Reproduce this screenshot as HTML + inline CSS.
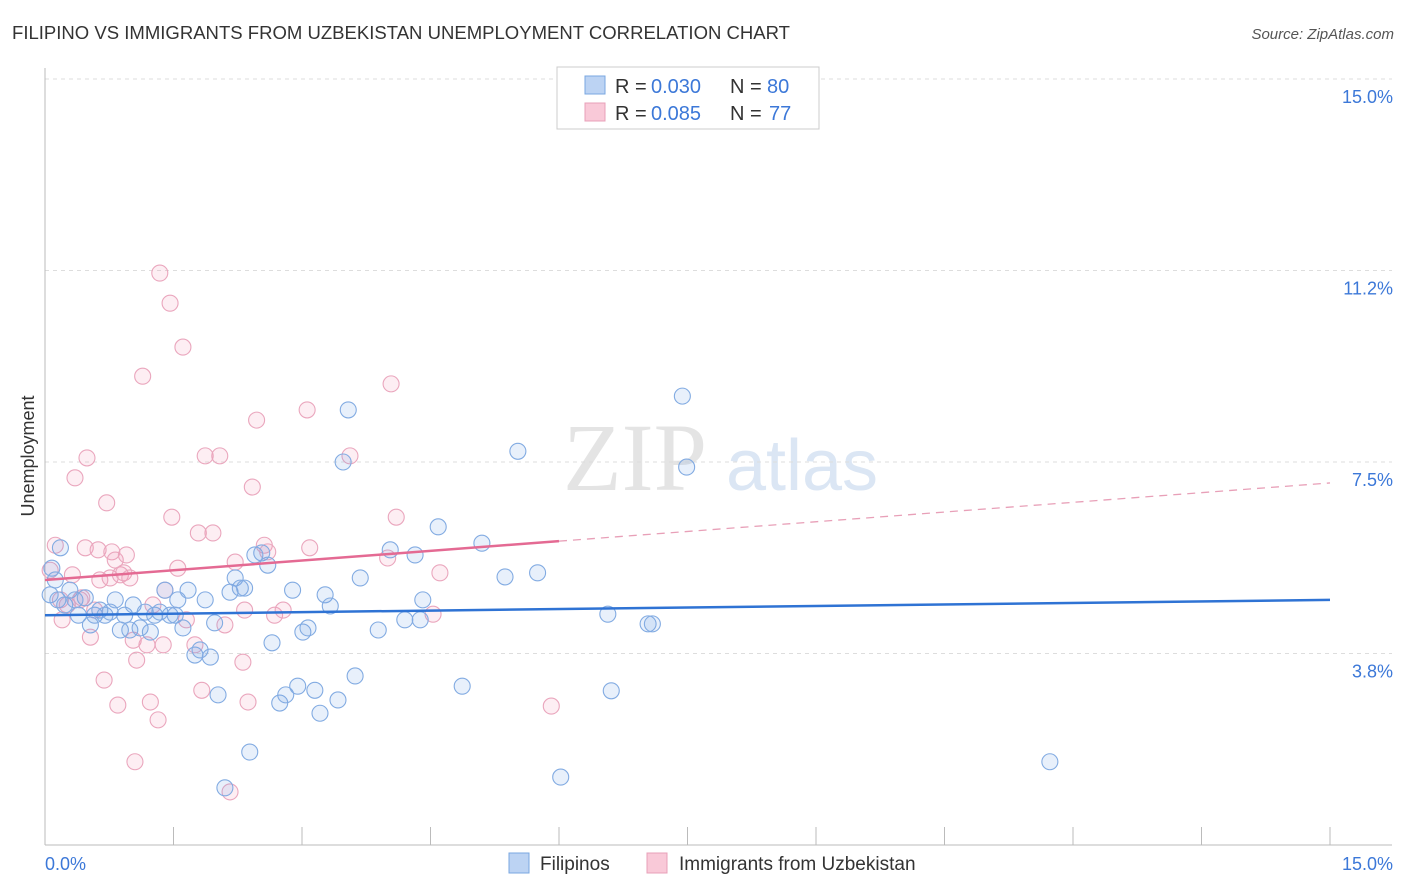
<!DOCTYPE html>
<html><head><meta charset="utf-8">
<style>
body{margin:0;background:#fff;font-family:"Liberation Sans",sans-serif;}
#wrap{position:relative;width:1406px;height:892px;overflow:hidden;}
</style></head>
<body>
<div id="wrap">
<svg id="chart" width="1406" height="892">
  <text x="12" y="39" font-size="18" fill="#333" textLength="778" lengthAdjust="spacingAndGlyphs">FILIPINO VS IMMIGRANTS FROM UZBEKISTAN UNEMPLOYMENT CORRELATION CHART</text>
  <text x="1394" y="39" font-size="15" fill="#555" font-style="italic" text-anchor="end">Source: ZipAtlas.com</text>
  <text x="34" y="456" font-size="18" fill="#333" text-anchor="middle" transform="rotate(-90 34 456)">Unemployment</text>
  <g>
    <text x="635" y="490" font-size="96" fill="#e4e4e4" font-family="Liberation Serif,serif" text-anchor="middle">ZIP</text>
    <text x="802" y="490" font-size="72" fill="#dbe6f4" text-anchor="middle">atlas</text>
  </g>
  <g id="grid"></g>
  <g id="axes"></g>
  <g id="marks"></g>
  <g>
    <rect x="557" y="67" width="262" height="62" fill="#fff" stroke="#ccc"/>
    <rect x="585" y="76" width="20" height="18" fill="#bcd3f3" stroke="#7aa7e0"/>
    <rect x="585" y="103" width="20" height="18" fill="#f9c9d8" stroke="#e8a0b8"/>
    <text x="615" y="93" font-size="20" fill="#333">R =</text>
    <text x="651" y="93" font-size="20" fill="#3c78d8">0.030</text>
    <text x="730" y="93" font-size="20" fill="#333">N =</text>
    <text x="767" y="93" font-size="20" fill="#3c78d8">80</text>
    <text x="615" y="120" font-size="20" fill="#333">R =</text>
    <text x="651" y="120" font-size="20" fill="#3c78d8">0.085</text>
    <text x="730" y="120" font-size="20" fill="#333">N =</text>
    <text x="769" y="120" font-size="20" fill="#3c78d8">77</text>
  </g>
  <g>
    <rect x="509" y="853" width="20" height="20" fill="#bcd3f3" stroke="#7aa7e0"/>
    <text x="540" y="870" font-size="19" fill="#333">Filipinos</text>
    <rect x="647" y="853" width="20" height="20" fill="#f9c9d8" stroke="#e8a0b8"/>
    <text x="679" y="870" font-size="19" fill="#333">Immigrants from Uzbekistan</text>
  </g>
</svg>
</div>
<script>
const yTicks=[3.75,7.5,11.25,15];
const yTickLabels=["3.8%","7.5%","11.2%","15.0%"];
const xTickVals=[0,1.5,3,4.5,6,7.5,9,10.5,12,13.5,15];
const xEndLabels=["0.0%","15.0%"];
const blueX=[0.08,0.12,0.18,0.06,0.15,0.23,0.29,0.35,0.39,0.47,0.53,0.58,0.64,0.70,0.76,0.82,0.88,0.93,0.99,1.03,1.11,1.17,1.23,1.28,1.34,1.40,1.46,1.52,1.55,1.61,1.67,1.75,1.81,1.87,1.93,1.98,2.02,2.10,2.16,2.22,2.28,2.33,2.39,2.45,2.53,2.60,2.65,2.74,2.81,2.89,2.95,3.01,3.07,3.15,3.21,3.27,3.33,3.42,3.48,3.54,3.62,3.68,3.89,4.03,4.20,4.32,4.38,4.41,4.59,4.87,5.10,5.37,5.52,5.75,6.02,6.57,6.61,7.04,7.09,7.44,7.49,11.73];
const blueY=[5.42,5.19,5.82,4.90,4.80,4.70,4.99,4.80,4.50,4.84,4.31,4.50,4.60,4.50,4.56,4.80,4.21,4.50,4.21,4.70,4.25,4.56,4.17,4.50,4.56,4.99,4.50,4.50,4.80,4.25,4.99,3.72,3.82,4.80,3.68,4.35,2.94,1.12,4.95,5.23,5.03,5.03,1.82,5.68,5.72,5.48,3.96,2.78,2.94,4.99,3.11,4.17,4.25,3.03,2.58,4.90,4.68,2.84,7.50,8.52,3.31,5.23,4.21,5.78,4.41,5.68,4.41,4.80,6.23,3.11,5.91,5.25,7.71,5.33,1.33,4.52,3.02,4.33,4.33,8.79,7.40,1.63];
const pinkX=[0.06,0.12,0.18,0.20,0.26,0.32,0.35,0.41,0.43,0.47,0.49,0.53,0.58,0.62,0.64,0.69,0.72,0.76,0.78,0.82,0.85,0.88,0.92,0.95,0.99,1.03,1.05,1.07,1.14,1.19,1.23,1.26,1.32,1.34,1.38,1.40,1.46,1.48,1.55,1.61,1.65,1.75,1.79,1.83,1.87,1.96,2.04,2.10,2.16,2.22,2.31,2.33,2.37,2.42,2.47,2.56,2.60,2.68,2.78,3.06,3.09,3.56,4.00,4.04,4.10,4.53,4.61,5.91];
const pinkY=[5.38,5.87,4.80,4.41,4.70,5.29,7.19,4.80,4.84,5.82,7.58,4.07,4.60,5.78,5.19,3.23,6.70,5.23,5.74,5.58,2.74,5.29,5.33,5.68,5.23,4.01,1.63,3.62,9.18,3.92,2.80,4.70,2.45,11.20,3.92,4.99,10.61,6.42,5.42,9.75,4.41,3.92,6.11,3.03,7.62,6.11,7.62,4.31,1.04,5.54,3.58,4.60,2.80,7.01,8.32,5.87,5.74,4.50,4.60,8.52,5.82,7.62,5.62,9.03,6.42,4.52,5.33,2.72];
const blueTrend=[4.50,4.80];
const pinkTrend=[5.19,7.09];
const pinkSolidEnd=6.0;

const X0=45,X1=1330,Y0=845,Y1=79;
const sx=v=>X0+(v/15)*(X1-X0);
const sy=v=>Y0-(v/15)*(Y0-Y1);
const NS="http://www.w3.org/2000/svg";
function mk(tag,attrs,parent){const e=document.createElementNS(NS,tag);for(const k in attrs)e.setAttribute(k,attrs[k]);parent.appendChild(e);return e;}
const grid=document.getElementById('grid'),axes=document.getElementById('axes'),marks=document.getElementById('marks');
yTicks.forEach((t,i)=>{
  const l=mk('line',{x1:X0,x2:1392,y1:sy(t),y2:sy(t),stroke:'#ddd','stroke-dasharray':'4,4'},grid);
  
  
  const tx=mk('text',{x:1393,y:sy(t)+24,'font-size':18,fill:'#3c78d8','text-anchor':'end'},axes);
  tx.textContent=yTickLabels[i];
  
  
});
const ya=mk('line',{x1:X0,x2:X0,y1:68,y2:Y0,stroke:'#bbb'},axes);


const xa=mk('line',{x1:X0,x2:1392,y1:Y0,y2:Y0,stroke:'#bbb'},axes);


xTickVals.forEach(t=>{
  const l=mk('line',{x1:sx(t),x2:sx(t),y1:Y0,y2:Y0-18,stroke:'#bbb'},axes);
  
  
});
[[45,'start'],[1393,'end']].forEach((p,i)=>{
  const tx=mk('text',{x:p[0],y:870,'font-size':18,fill:'#3c78d8','text-anchor':p[1]},axes);
  tx.textContent=xEndLabels[i];
  
  
});
function dots(xs,ys,fill,stroke,name){
  xs.forEach((x,i)=>{
    const c=mk('circle',{cx:sx(x),cy:sy(ys[i]),r:8,fill:fill,stroke:stroke,'stroke-width':1.1},marks);
    
    
  });
}
dots(pinkX,pinkY,'rgba(240,150,180,0.16)','#eaa6bd','point-uzbekistan');
dots(blueX,blueY,'rgba(110,160,230,0.16)','#82abe2','point-filipinos');
const lerp=(tr,x)=>tr[0]+(tr[1]-tr[0])*x/15;
const bl=mk('line',{x1:sx(0),y1:sy(blueTrend[0]),x2:sx(15),y2:sy(blueTrend[1]),stroke:'#2f73d4','stroke-width':2.5},marks);


const pl=mk('line',{x1:sx(0),y1:sy(pinkTrend[0]),x2:sx(pinkSolidEnd),y2:sy(lerp(pinkTrend,pinkSolidEnd)),stroke:'#e46a93','stroke-width':2.5},marks);


const pd=mk('line',{x1:sx(pinkSolidEnd),y1:sy(lerp(pinkTrend,pinkSolidEnd)),x2:sx(15),y2:sy(pinkTrend[1]),stroke:'#e8a0b8','stroke-width':1.3,'stroke-dasharray':'8,6'},marks);


</script>
</body></html>
